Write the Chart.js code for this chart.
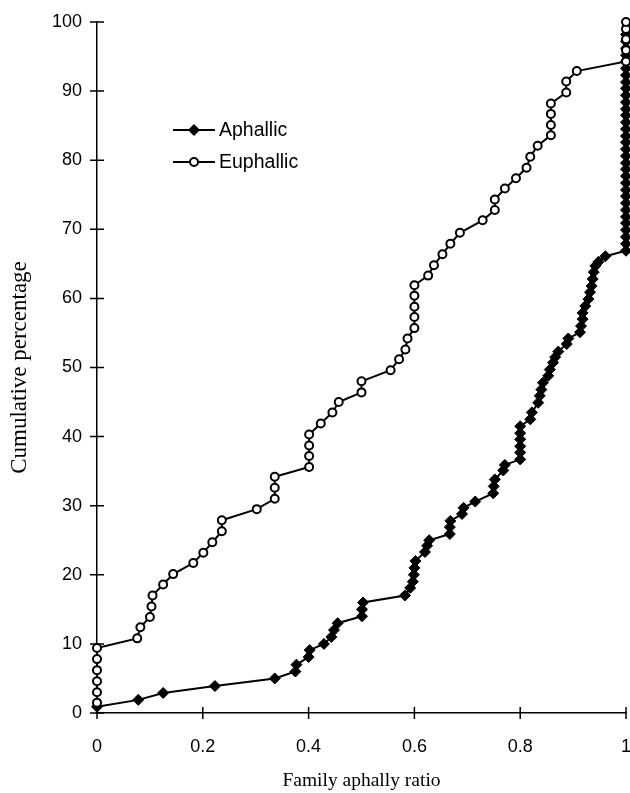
<!DOCTYPE html>
<html>
<head>
<meta charset="utf-8">
<script src="https://cdn.jsdelivr.net/npm/chart.js@4.4.0/dist/chart.umd.min.js"></script>
<style>
  html, body { margin: 0; padding: 0; background: #fff; }
</style>
</head>
<body>
<canvas id="chart" width="630" height="793"></canvas>
<script>
// valores (proporcion de afalia por familia, % acumulado)
const aphallicX = [0, 0.078, 0.125, 0.223, 0.336, 0.375, 0.377, 0.400, 0.402, 0.429,
  0.443, 0.448, 0.455, 0.501, 0.501, 0.503, 0.582, 0.592, 0.597, 0.599,
  0.600, 0.602, 0.620, 0.624, 0.628, 0.667, 0.667, 0.668, 0.690, 0.693,
  0.715, 0.749, 0.750, 0.752, 0.768, 0.771, 0.800, 0.800, 0.800, 0.800,
  0.800, 0.800, 0.819, 0.822, 0.834, 0.837, 0.840, 0.843, 0.853, 0.856,
  0.862, 0.866, 0.872, 0.888, 0.891, 0.913, 0.915, 0.918, 0.918, 0.923,
  0.929, 0.932, 0.935, 0.937, 0.939, 0.942, 0.948, 0.961,
  1, 1, 1, 1, 1, 1, 1, 1, 1, 1, 1, 1, 1, 1, 1, 1, 1, 1,
  1, 1, 1, 1, 1, 1, 1, 1, 1, 1, 1, 1, 1, 1, 1];
const aphallicY = [0.9, 1.9, 2.9, 3.9, 5.0, 6.0, 7.0, 8.1, 9.1, 10.0,
  11.0, 12.0, 13.0, 14.0, 15.0, 16.0, 17.0, 18.1, 19.0, 20.0,
  21.0, 22.0, 23.3, 24.2, 25.0, 25.9, 26.9, 27.8, 28.8, 29.7,
  30.6, 31.8, 32.8, 33.8, 35.1, 35.9, 36.7, 37.7, 38.6, 39.6,
  40.5, 41.5, 42.5, 43.5, 44.9, 45.9, 46.8, 47.8, 48.8, 49.7,
  50.7, 51.5, 52.3, 53.4, 54.2, 55.1, 56.0, 57.0, 57.9, 58.9,
  59.9, 60.9, 61.8, 62.8, 63.8, 64.7, 65.3, 66.1,
  66.9, 67.9, 68.9, 69.9, 70.9, 71.8, 72.8, 73.8, 74.8, 75.7, 76.7, 77.7, 78.7, 79.6, 80.6, 81.6, 82.6, 83.5,
  84.5, 85.5, 86.5, 87.4, 88.4, 89.4, 90.4, 91.3, 92.3, 93.3, 94.3, 95.2, 96.2, 97.2, 98.2, 99.1, 100];

const euphallicX = [0, 0, 0, 0, 0, 0, 0.076, 0.082, 0.100, 0.103,
  0.105, 0.125, 0.144, 0.182, 0.201, 0.218, 0.236, 0.236, 0.302, 0.336,
  0.336, 0.336, 0.401, 0.401, 0.401, 0.401, 0.423, 0.445, 0.457, 0.500,
  0.500, 0.555, 0.571, 0.583, 0.587, 0.600, 0.600, 0.600, 0.600, 0.600,
  0.626, 0.637, 0.653, 0.668, 0.686, 0.729, 0.752, 0.752, 0.771, 0.792,
  0.812, 0.819, 0.833, 0.858, 0.858, 0.858, 0.858, 0.887, 0.887, 0.907,
  1, 1, 1, 1, 1];
const euphallicY = [1.5, 3.0, 4.6, 6.2, 7.8, 9.4, 10.8, 12.4, 13.9, 15.4,
  17.0, 18.6, 20.1, 21.7, 23.2, 24.7, 26.3, 27.9, 29.5, 31.0,
  32.6, 34.2, 35.6, 37.2, 38.7, 40.3, 41.9, 43.5, 45.0, 46.4,
  48.0, 49.6, 51.2, 52.6, 54.2, 55.7, 57.3, 58.8, 60.4, 61.9,
  63.3, 64.8, 66.4, 67.9, 69.5, 71.3, 72.8, 74.3, 75.9, 77.4,
  78.9, 80.5, 82.1, 83.6, 85.1, 86.7, 88.2, 89.8, 91.4, 92.9,
  94.3, 95.9, 97.5, 99.0, 100];

const xTicks = [0, 0.2, 0.4, 0.6, 0.8, 1];
const yTicks = [0, 10, 20, 30, 40, 50, 60, 70, 80, 90, 100];

const toPoints = (xs, ys) => xs.map((x, i) => ({ x: x, y: ys[i] }));

const sansFont = '"Liberation Sans", Arial, sans-serif';
const serifFont = '"Liberation Serif", "Times New Roman", serif';

const serie = {
  aphallic: { label: 'Aphallic', pointStyle: 'rectRot', radius: 5.5, fill: '#000', borderWidth: 1 },
  euphallic: { label: 'Euphallic', pointStyle: 'circle', radius: 4, fill: '#fff', borderWidth: 2 }
};

// marcas de tick que cruzan el eje
const crossTicks = {
  id: 'crossTicks',
  beforeDatasetsDraw(chart) {
    const { ctx, chartArea, scales } = chart;
    ctx.save();
    ctx.strokeStyle = '#000';
    ctx.lineWidth = 1.5;
    ctx.beginPath();
    yTicks.forEach(v => {
      const py = scales.y.getPixelForValue(v);
      ctx.moveTo(chartArea.left - 7, py);
      ctx.lineTo(chartArea.left + 7, py);
    });
    xTicks.forEach(v => {
      const px = scales.x.getPixelForValue(v);
      ctx.moveTo(px, chartArea.bottom - 6);
      ctx.lineTo(px, chartArea.bottom + 6);
    });
    ctx.stroke();
    ctx.restore();
  }
};

// leyenda dentro del area del grafico
const innerLegend = {
  id: 'innerLegend',
  afterDraw(chart) {
    const { ctx, chartArea } = chart;
    const rows = [serie.aphallic, serie.euphallic];
    ctx.save();
    rows.forEach((s, i) => {
      const y = chartArea.top + 108 + i * 32;
      const x0 = chartArea.left + 76;
      ctx.strokeStyle = '#000';
      ctx.lineWidth = 2;
      ctx.beginPath();
      ctx.moveTo(x0, y);
      ctx.lineTo(x0 + 42, y);
      ctx.stroke();
      ctx.fillStyle = s.fill;
      ctx.lineWidth = s.borderWidth;
      Chart.helpers.drawPoint(ctx, { pointStyle: s.pointStyle, radius: s.radius, rotation: 0, borderWidth: s.borderWidth }, x0 + 21, y);
      ctx.fillStyle = '#000';
      ctx.font = '19.5px ' + sansFont;
      ctx.textBaseline = 'middle';
      ctx.fillText(s.label, x0 + 46, y + 1);
    });
    ctx.restore();
  }
};

const makeDataset = (s, pts, order) => ({
  label: s.label,
  data: pts,
  showLine: true,
  borderColor: '#000',
  borderWidth: 2,
  pointStyle: s.pointStyle,
  pointRadius: s.radius,
  pointBackgroundColor: s.fill,
  pointBorderColor: '#000',
  pointBorderWidth: s.borderWidth,
  clip: false,
  order: order
});

new Chart(document.getElementById('chart'), {
  type: 'scatter',
  data: {
    datasets: [
      makeDataset(serie.euphallic, toPoints(euphallicX, euphallicY), 0),
      makeDataset(serie.aphallic, toPoints(aphallicX, aphallicY), 1)
    ]
  },
  options: {
    responsive: false,
    animation: false,
    layout: { padding: { top: 22, right: 4, left: 0, bottom: 0 }, autoPadding: false },
    plugins: {
      legend: { display: false },
      tooltip: { enabled: false }
    },
    scales: {
      x: {
        type: 'linear',
        min: 0,
        max: 1,
        afterBuildTicks: s => { s.ticks = xTicks.map(v => ({ value: v })); },
        afterFit: s => { s.height = 80; s.paddingLeft = 0; s.paddingRight = 0; },
        grid: { display: false },
        border: { display: true, color: '#000', width: 1.5 },
        ticks: {
          color: '#000',
          padding: 15,
          maxRotation: 0,
          font: { family: sansFont, size: 18 },
          callback: v => String(Number(v.toFixed(1)))
        },
        title: {
          display: true,
          text: 'Family aphally ratio',
          color: '#000',
          font: { family: serifFont, size: 19.5 },
          padding: { top: 0, bottom: 0 }
        }
      },
      y: {
        min: 0,
        max: 100,
        afterBuildTicks: s => { s.ticks = yTicks.map(v => ({ value: v })); },
        afterFit: s => { s.width = 97; s.paddingTop = 0; s.paddingBottom = 0; },
        grid: { display: false },
        border: { display: true, color: '#000', width: 1.5 },
        ticks: {
          color: '#000',
          padding: 7,
          font: { family: sansFont, size: 18 }
        },
        title: {
          display: true,
          text: 'Cumulative percentage',
          color: '#000',
          font: { family: serifFont, size: 23 },
          padding: { top: 6, bottom: 0 }
        }
      }
    }
  },
  plugins: [crossTicks, innerLegend]
});
</script>
</body>
</html>
